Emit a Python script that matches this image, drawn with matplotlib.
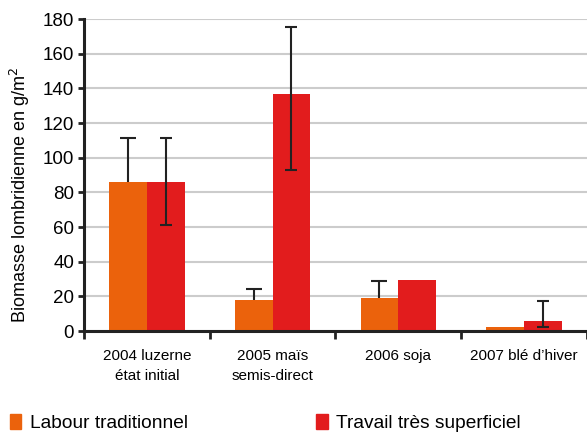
import numpy as np
import matplotlib
matplotlib.use("Agg")
import matplotlib.pyplot as plt
from matplotlib.patches import Patch

plt.rcParams['font.family'] = ['Liberation Sans', 'DejaVu Sans']

categories = ["2004 luzerne\nétat initial", "2005 maïs\nsemis-direct", "2006 soja", "2007 blé d\u2019hiver"]
labour = [86, 18, 19, 2.3]
labour_err_up = [25.5, 6.5, 10, 0]
travail = [86, 137, 29.5, 6]
travail_err_lo = [25, 44, 0, 3.5]
travail_err_hi = [25.5, 38.5, 0, 11.5]
series_names = ["Labour traditionnel", "Travail très superficiel"]
c_orange = "#EB620C"
c_red = "#E21C1D"
c_ink = "#222222"

fig = plt.figure(figsize=(5.87, 4.34), dpi=100)
ax = fig.add_axes([0.143, 0.237, 0.857, 0.719])

x = np.arange(len(categories))
w = 0.3

ax.bar(x - w / 2, labour, w, color=c_orange, zorder=2)
ax.bar(x + w / 2, travail, w, color=c_red, zorder=2)

# orange bars: only the upper half of the error bar, one cap on top
m = np.array(labour_err_up) > 0
xo = (x - w / 2)[m]
yo = np.array(labour)[m]
up = np.array(labour_err_up)[m]
ax.vlines(xo, yo, yo + up, color=c_ink, lw=1.5, zorder=3)
ax.plot(xo, yo + up, ls="none", marker="_", ms=12, mew=1.5, color=c_ink, zorder=3)

m2 = np.array(travail_err_hi) > 0
ax.errorbar((x + w / 2)[m2], np.array(travail)[m2],
            yerr=[np.array(travail_err_lo)[m2], np.array(travail_err_hi)[m2]],
            fmt="none", ecolor=c_ink, elinewidth=1.5, capsize=4.5, capthick=1.5, zorder=3)

ax.set_xlim(-0.5, len(categories) - 0.5)
ax.set_ylim(0, 180)
ax.set_yticks(np.arange(0, 181, 20))
ax.yaxis.grid(True, color="#cccccc", lw=1.5, zorder=0)
ax.set_axisbelow(True)

ax.set_xticks(np.arange(len(categories) + 1) - 0.5)
ax.set_xticklabels([])
ax.set_xticks(x, minor=True)
ax.set_xticklabels(categories, minor=True, fontsize=11, linespacing=1.55)
ax.tick_params(axis="x", which="major", length=6, width=2, color=c_ink)
ax.tick_params(axis="x", which="minor", length=0, pad=13)
ax.tick_params(axis="y", length=4, width=2, color=c_ink, labelsize=13.5, pad=3)

for s in ["top", "right"]:
    ax.spines[s].set_visible(False)
for s in ["left", "bottom"]:
    ax.spines[s].set_linewidth(2.2)
    ax.spines[s].set_color(c_ink)

ax.set_ylabel("Biomasse lombridienne en g/m$^2$", fontsize=13)
ax.yaxis.set_label_coords(-0.104, 0.435)

handles = [Patch(color=c_orange), Patch(color=c_red)]
fig.legend(handles, series_names, loc="lower left", bbox_to_anchor=(0.0, -0.017),
           ncol=2, frameon=False, fontsize=13.8, handlelength=0.6, handleheight=0.85,
           handletextpad=0.45, columnspacing=6.7, borderaxespad=0.1)

fig.savefig("out.png", dpi=100)
